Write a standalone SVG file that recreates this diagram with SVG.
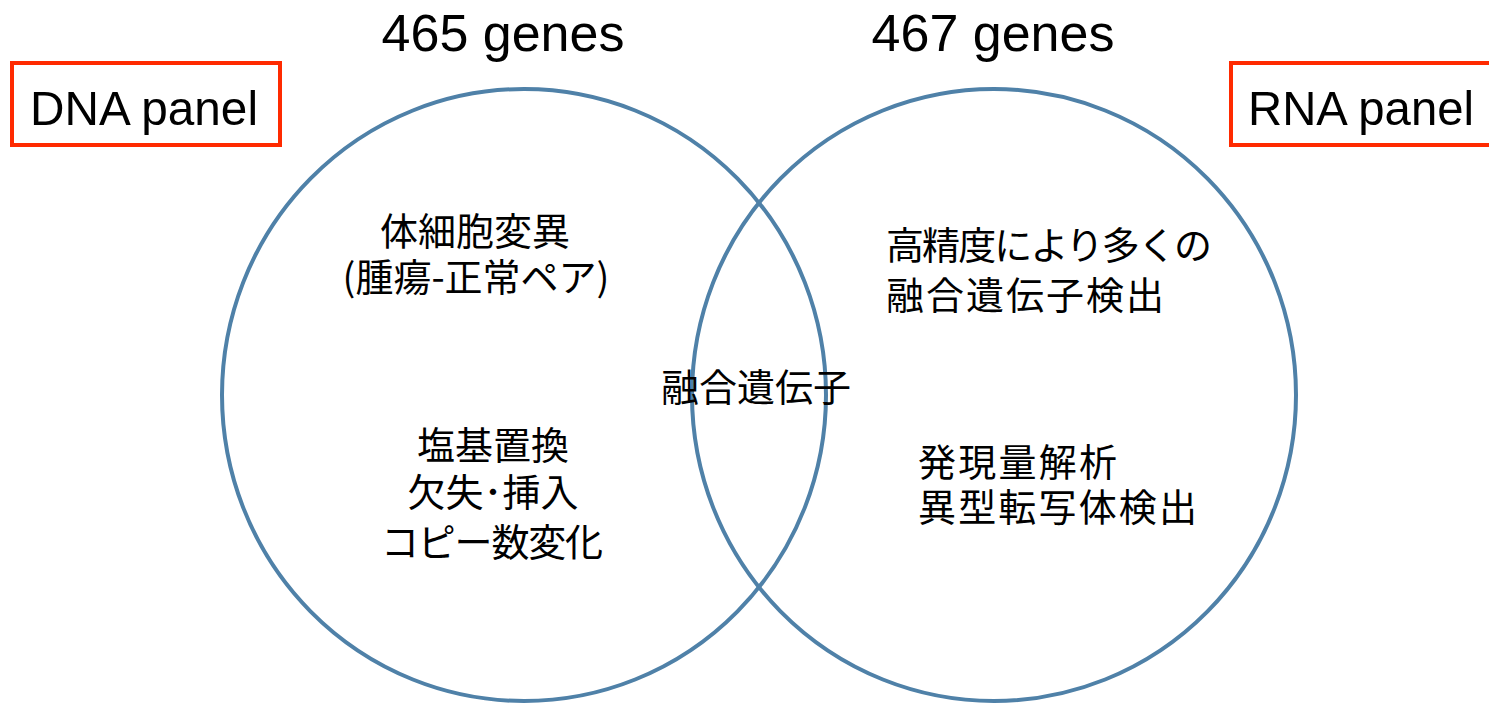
<svg xmlns="http://www.w3.org/2000/svg" width="1489" height="705" viewBox="0 0 1489 705">
<style>
.circ{fill:none;stroke:#4F81A8;stroke-width:4}
.box{fill:#fff;stroke:#FF2A00;stroke-width:4}
.lbl{font-family:"Liberation Sans",Arial,sans-serif;font-size:49px;fill:#000}
.cnt{font-family:"Liberation Sans",Arial,sans-serif;font-size:52px;fill:#000}
.jp{font-family:"Noto Sans CJK JP","Noto Sans",sans-serif;font-size:38px;fill:#000}
</style>
<rect width="1489" height="705" fill="#fff"/>
<g id="connectors"></g>
<g id="dna-circle">
<ellipse class="circ" cx="524" cy="395" rx="302" ry="306"/>
</g>
<g id="rna-circle">
<ellipse class="circ" cx="994" cy="395" rx="302" ry="306"/>
</g>
<g id="dna-count"><text class="cnt" x="503" y="51" text-anchor="middle">465 genes</text></g>
<g id="rna-count"><text class="cnt" x="993" y="51" text-anchor="middle">467 genes</text></g>
<g id="dna-panel">
<rect class="box" x="12" y="63" width="268" height="82"/>
<text class="lbl" x="30" y="125" textLength="228" lengthAdjust="spacingAndGlyphs">DNA panel</text>
</g>
<g id="rna-panel">
<rect class="box" x="1231" y="63" width="270" height="82"/>
<text class="lbl" x="1248" y="125" textLength="226" lengthAdjust="spacingAndGlyphs">RNA panel</text>
</g>
<g id="dna-only-1">
<text class="jp" x="475" y="245" text-anchor="middle">体細胞変異</text>
<text class="jp" x="476" y="291" text-anchor="middle">(腫瘍-正常ペア)</text>
</g>
<g id="dna-only-2">
<text class="jp" x="493" y="459" text-anchor="middle">塩基置換</text>
<text class="jp" x="493" y="506" text-anchor="middle">欠失･挿入</text>
<text class="jp" x="492" y="556" text-anchor="middle" textLength="222" lengthAdjust="spacing">コピー数変化</text>
</g>
<g id="overlap">
<text class="jp" x="756" y="401" text-anchor="middle">融合遺伝子</text>
</g>
<g id="rna-only-1">
<text class="jp" x="886" y="259" textLength="326" lengthAdjust="spacing">高精度により多くの</text>
<text class="jp" x="886" y="309" textLength="278" lengthAdjust="spacing">融合遺伝子検出</text>
</g>
<g id="rna-only-2">
<text class="jp" x="918" y="476" textLength="199" lengthAdjust="spacing">発現量解析</text>
<text class="jp" x="918" y="521" textLength="279" lengthAdjust="spacing">異型転写体検出</text>
</g>
</svg>
